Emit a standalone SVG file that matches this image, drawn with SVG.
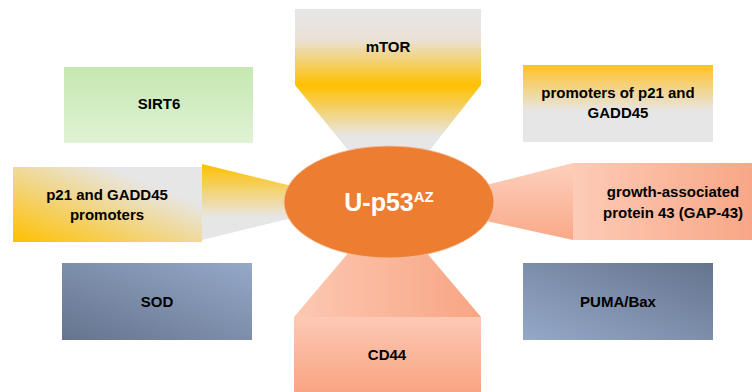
<svg xmlns="http://www.w3.org/2000/svg" width="752" height="392" viewBox="0 0 752 392">
<style>
.t{font-family:"Liberation Sans",Arial,sans-serif;font-weight:bold;font-size:15px;fill:#000;text-anchor:middle}
.c{font-family:"Liberation Sans",Arial,sans-serif;font-weight:bold;fill:#fff;text-anchor:middle}
</style>
<defs>
<linearGradient id="gMtor" gradientUnits="userSpaceOnUse" x1="0" y1="9" x2="0" y2="150">
<stop offset="0" stop-color="#e7e6e6"/><stop offset="0.22" stop-color="#e9e1d6"/><stop offset="0.54" stop-color="#ffc000"/><stop offset="0.9" stop-color="#e7e6e6"/></linearGradient>
<linearGradient id="gSirt" x1="0" y1="0" x2="0" y2="1"><stop offset="0" stop-color="#c5e8b0"/><stop offset="1" stop-color="#e0f2d5"/></linearGradient>
<linearGradient id="gProm" x1="0" y1="0" x2="0" y2="1"><stop offset="0" stop-color="#ffc125"/><stop offset="0.6" stop-color="#e7e6e6"/><stop offset="1" stop-color="#e7e6e6"/></linearGradient>
<linearGradient id="gP21" x1="0" y1="1" x2="1" y2="0"><stop offset="0" stop-color="#ffc000"/><stop offset="0.75" stop-color="#e7e6e6"/><stop offset="1" stop-color="#e7e6e6"/></linearGradient>
<linearGradient id="gP21t" x1="0" y1="0" x2="0" y2="1"><stop offset="0" stop-color="#ffc000"/><stop offset="0.7" stop-color="#e7e6e6"/><stop offset="1" stop-color="#e7e6e6"/></linearGradient>
<linearGradient id="gGapT" x1="0" y1="0" x2="0" y2="1"><stop offset="0" stop-color="#fdd0bd"/><stop offset="1" stop-color="#f9a988"/></linearGradient>
<linearGradient id="gGap" x1="0" y1="0" x2="1" y2="0"><stop offset="0" stop-color="#fdcbb6"/><stop offset="1" stop-color="#f8a786"/></linearGradient>
<linearGradient id="gCdT" x1="0" y1="0" x2="1" y2="0"><stop offset="0" stop-color="#fcc8b2"/><stop offset="1" stop-color="#f8a584"/></linearGradient>
<linearGradient id="gCd" x1="0" y1="0" x2="0" y2="1"><stop offset="0" stop-color="#fdc9b4"/><stop offset="1" stop-color="#f8a483"/></linearGradient>
<linearGradient id="gSod" x1="0" y1="1" x2="1" y2="0"><stop offset="0" stop-color="#65748e"/><stop offset="1" stop-color="#95a8c8"/></linearGradient>
<linearGradient id="gPuma" x1="0" y1="1" x2="1" y2="0"><stop offset="0" stop-color="#95a8c8"/><stop offset="1" stop-color="#65748e"/></linearGradient>
</defs>
<g id="connectors">
<polygon points="295,85 481,85 430,150 348,150" fill="url(#gMtor)"/>
<polygon points="202,164 292,186 292,218 202,240" fill="url(#gP21t)"/>
<polygon points="482,186 573,163 573,240 482,220" fill="url(#gGapT)"/>
<polygon points="355,245 420,245 481,317 294,317" fill="url(#gCdT)"/>
</g>
<g id="mtor">
<rect x="295" y="9" width="186" height="76" fill="url(#gMtor)"/>
<text class="t" x="388" y="52">mTOR</text>
</g>
<g id="sirt6">
<rect x="64" y="67" width="189" height="76" fill="url(#gSirt)"/>
<text class="t" x="159" y="109">SIRT6</text>
</g>
<g id="promoters-p21">
<rect x="523" y="65" width="190" height="77" fill="url(#gProm)"/>
<text class="t" x="618" y="98">promoters of p21 and</text>
<text class="t" x="618" y="118">GADD45</text>
</g>
<g id="p21-promoters">
<rect x="13" y="167" width="189" height="75" fill="url(#gP21)"/>
<text class="t" x="107" y="200">p21 and GADD45</text>
<text class="t" x="107" y="220">promoters</text>
</g>
<g id="gap43">
<rect x="573" y="163" width="179" height="77" fill="url(#gGap)"/>
<text class="t" x="673" y="197">growth-associated</text>
<text class="t" x="673" y="218">protein 43 (GAP-43)</text>
</g>
<g id="sod">
<rect x="62" y="263" width="190" height="77" fill="url(#gSod)"/>
<text class="t" x="157" y="307">SOD</text>
</g>
<g id="puma">
<rect x="523" y="263" width="190" height="77" fill="url(#gPuma)"/>
<text class="t" x="618" y="307">PUMA/Bax</text>
</g>
<g id="cd44">
<rect x="294" y="317" width="187" height="75" fill="url(#gCd)"/>
<text class="t" x="387" y="360">CD44</text>
</g>
<g id="up53">
<ellipse cx="389" cy="202" rx="105" ry="56" fill="#ed7d31" stroke="#f6c3a5" stroke-width="0.8"/>
<text class="c" x="389" y="211" font-size="25">U-p53<tspan font-size="15" dy="-9">AZ</tspan></text>
</g>
</svg>
